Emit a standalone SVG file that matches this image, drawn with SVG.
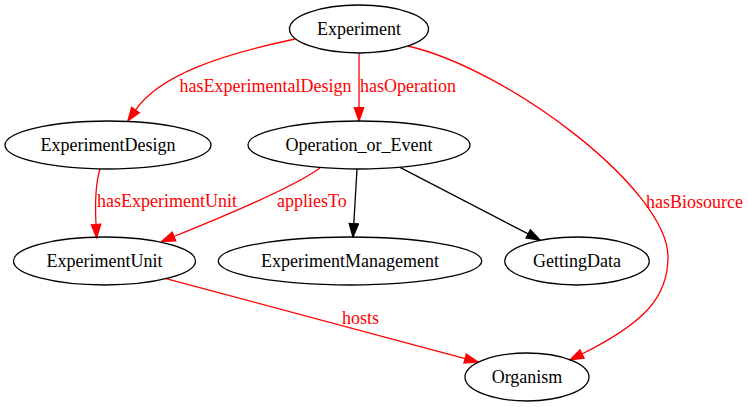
<svg xmlns="http://www.w3.org/2000/svg" width="748" height="407" viewBox="0 0 748 407">
<style>
.node ellipse{fill:none;stroke:#000;stroke-width:1.3}
.node text{font-family:"Liberation Serif","Times New Roman",serif;font-size:18px;fill:#000;text-anchor:middle}
.edge path{fill:none;stroke-width:1.3}
.red path{stroke:#ff0000}
.blk path{stroke:#000}
.lbl{font-family:"Liberation Serif","Times New Roman",serif;font-size:18px;fill:#ff0000}
</style>
<defs>
<marker id="ar" viewBox="-1 -1 15.33 11.33" refX="0" refY="4.67" markerWidth="15.33" markerHeight="11.33" markerUnits="userSpaceOnUse" orient="auto">
<path d="M0,0 L13.33,4.67 L0,9.33 Z" fill="#ff0000" stroke="#ff0000" stroke-width="1.3"/>
</marker>
<marker id="ab" viewBox="-1 -1 15.33 11.33" refX="0" refY="4.67" markerWidth="15.33" markerHeight="11.33" markerUnits="userSpaceOnUse" orient="auto">
<path d="M0,0 L13.33,4.67 L0,9.33 Z" fill="#000" stroke="#000" stroke-width="1.3"/>
</marker>
</defs>
<rect width="748" height="407" fill="#fff"/>
<g id="edges">
<g class="edge red"><path d="M295,39 C220,55 160,75 135.5,110" marker-end="url(#ar)"/></g>
<text class="lbl" x="179.5" y="92">hasExperimentalDesign</text>
<g class="edge red"><path d="M359,53 L359,107.7" marker-end="url(#ar)"/></g>
<text class="lbl" x="360" y="92">hasOperation</text>
<g class="edge red"><path d="M408,46 C510,70 668,190 668,257 C668,297 644.6,322.7 582,354" marker-end="url(#ar)"/></g>
<text class="lbl" x="646" y="207.5">hasBiosource</text>
<g class="edge red"><path d="M100,169 C95,185 95,205 96,224.5" marker-end="url(#ar)"/></g>
<text class="lbl" x="97" y="207">hasExperimentUnit</text>
<g class="edge red"><path d="M320,168 C295,186 235,212 174,236.5" marker-end="url(#ar)"/></g>
<text class="lbl" x="277" y="207">appliesTo</text>
<g class="edge blk"><path d="M357,169 L353.8,223.7" marker-end="url(#ab)"/></g>
<g class="edge blk"><path d="M400,167.3 L528.2,233.9" marker-end="url(#ab)"/></g>
<g class="edge red"><path d="M165,278.3 L465.1,358.6" marker-end="url(#ar)"/></g>
<text class="lbl" x="342" y="323.5">hosts</text>
</g>
<g id="Experiment" class="node"><ellipse cx="359" cy="29" rx="69.5" ry="24"/><text x="359" y="34.5">Experiment</text></g>
<g id="ExperimentDesign" class="node"><ellipse cx="108" cy="145" rx="103" ry="24"/><text x="108" y="150.5">ExperimentDesign</text></g>
<g id="Operation_or_Event" class="node"><ellipse cx="359" cy="145" rx="111" ry="24"/><text x="359" y="150.5">Operation_or_Event</text></g>
<g id="ExperimentUnit" class="node"><ellipse cx="104.5" cy="261" rx="91" ry="24"/><text x="104.5" y="266.5">ExperimentUnit</text></g>
<g id="ExperimentManagement" class="node"><ellipse cx="350" cy="261" rx="131.7" ry="24"/><text x="350" y="266.5">ExperimentManagement</text></g>
<g id="GettingData" class="node"><ellipse cx="577" cy="261" rx="72.3" ry="24"/><text x="577" y="266.5">GettingData</text></g>
<g id="Organism" class="node"><ellipse cx="527" cy="377" rx="62" ry="24"/><text x="527" y="382.5">Organism</text></g>
</svg>
